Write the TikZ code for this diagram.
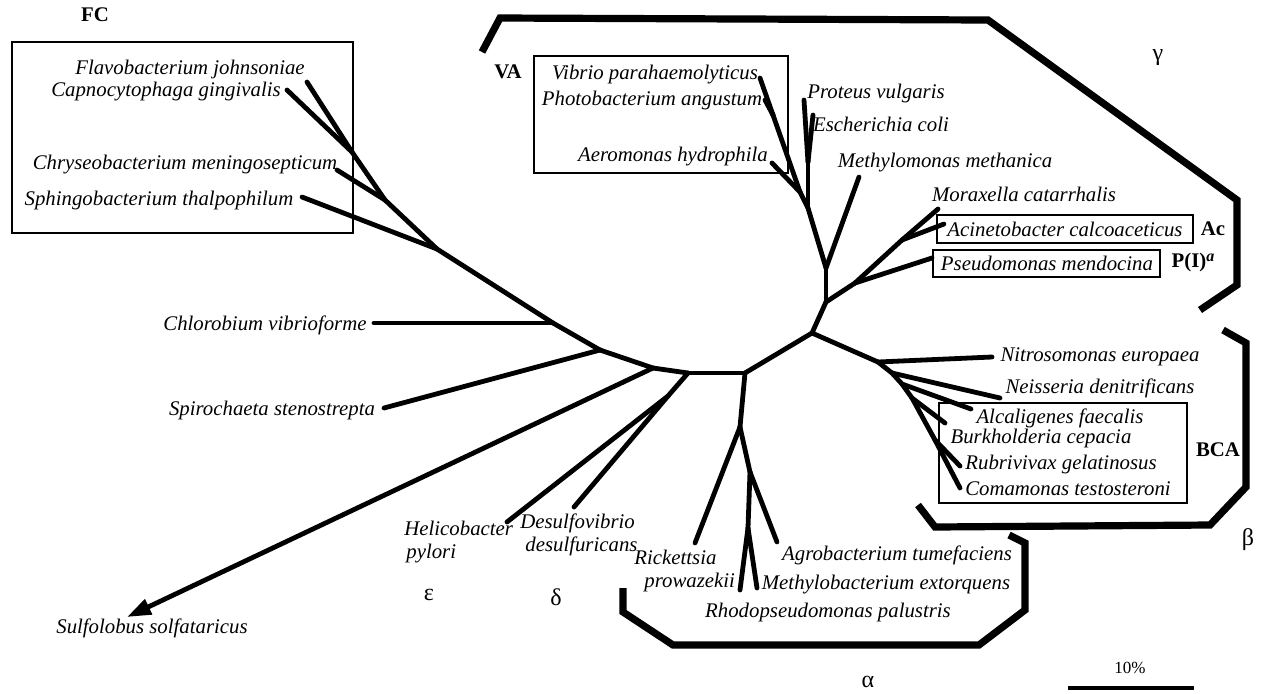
\documentclass[tikz,border=0pt]{standalone}
\usepackage{fontspec}
\setmainfont{Liberation Serif}
\usetikzlibrary{arrows.meta}
\begin{document}
\begin{tikzpicture}[x=0.5pt,y=-0.5pt,
  br/.style={line width=2.4pt,line cap=round,line join=round},
  brk/.style={line width=3.6pt,line join=miter},
  bx/.style={draw,line width=1pt},
  lab/.style={font=\fontsize{10.4}{11.6}\selectfont\itshape,inner sep=0pt},
  grp/.style={font=\fontsize{10.4}{12}\selectfont\bfseries,inner sep=0pt},
  gk/.style={font=\fontsize{12}{14}\selectfont,inner sep=0pt}]
\useasboundingbox (0,0) rectangle (1266,693);

% ---------- internal nodes ----------
\coordinate (F1) at (352,152);
\coordinate (F2) at (385,200);
\coordinate (F3) at (437,249);
\coordinate (Chl) at (553,323);
\coordinate (Spi) at (600,350);
\coordinate (Sul) at (653,368);
\coordinate (CL) at (688,373);
\coordinate (H1) at (668,396);
\coordinate (CA) at (745,373);
\coordinate (A1) at (740,427);
\coordinate (A2) at (750,472);
\coordinate (A3) at (748,528);
\coordinate (C1) at (812,333);
\coordinate (G1) at (826,302);
\coordinate (G2) at (826,268);
\coordinate (G3) at (808,208);
\coordinate (GA) at (800,192);
\coordinate (Gvib) at (773,115);
\coordinate (Gent) at (808,162);
\coordinate (Gps) at (855,283);
\coordinate (Gmor) at (902,240);
\coordinate (B1) at (878,362);
\coordinate (B2) at (892,373);
\coordinate (B3) at (902,384);
\coordinate (B4) at (912,398);
\coordinate (B5) at (935,440);

% ---------- leaf tips ----------
\coordinate (tFlavo) at (307,82);
\coordinate (tCapno) at (287,90);
\coordinate (tChryseo) at (337,170);
\coordinate (tSphingo) at (302,197);
\coordinate (tChloro) at (374,323);
\coordinate (tSpiro) at (384,408);
\coordinate (tSulfo) at (127,617);
\coordinate (tHelico) at (507,522);
\coordinate (tDesulfo) at (574,507);
\coordinate (tRick) at (695,543);
\coordinate (tAgro) at (777,542);
\coordinate (tRhodo) at (740,590);
\coordinate (tMethylo) at (757,588);
\coordinate (tVibrio) at (760,78);
\coordinate (tPhoto) at (765,100);
\coordinate (tAero) at (772,163);
\coordinate (tProteus) at (804,100);
\coordinate (tEcoli) at (813,115);
\coordinate (tMethylom) at (859,177);
\coordinate (tMorax) at (938,209);
\coordinate (tAcin) at (944,224);
\coordinate (tPseudo) at (932,258);
\coordinate (tNitro) at (992,357);
\coordinate (tNeis) at (1000,398);
\coordinate (tAlc) at (971,409);
\coordinate (tBurk) at (945,423);
\coordinate (tRubr) at (960,466);
\coordinate (tComa) at (960,488);

% ---------- branches ----------
\draw[br] (tFlavo) -- (F1);
\draw[br] (tCapno) -- (F1);
\draw[br] (F1) -- (F2);
\draw[br] (tChryseo) -- (F2);
\draw[br] (F2) -- (F3);
\draw[br] (tSphingo) -- (F3);
\draw[br] (F3) -- (Chl);
\draw[br] (tChloro) -- (Chl);
\draw[br] (Chl) -- (Spi);
\draw[br] (tSpiro) -- (Spi);
\draw[br] (Spi) -- (Sul);
\draw[br,-{Triangle[length=12pt,width=8pt]}] (Sul) -- (tSulfo);
\draw[br] (Sul) -- (CL);
\draw[br] (CL) -- (H1);
\draw[br] (H1) -- (tHelico);
\draw[br] (H1) -- (tDesulfo);
\draw[br] (CL) -- (CA);
\draw[br] (CA) -- (A1);
\draw[br] (A1) -- (tRick);
\draw[br] (A1) -- (A2);
\draw[br] (A2) -- (tAgro);
\draw[br] (A2) -- (A3);
\draw[br] (A3) -- (tRhodo);
\draw[br] (A3) -- (tMethylo);
\draw[br] (CA) -- (C1);
\draw[br] (C1) -- (G1);
\draw[br] (G1) -- (G2);
\draw[br] (G2) -- (G3);
\draw[br] (G2) -- (tMethylom);
\draw[br] (G3) -- (GA);
\draw[br] (GA) -- (tAero);
\draw[br] (GA) -- (Gvib);
\draw[br] (Gvib) -- (tVibrio);
\draw[br] (Gvib) -- (tPhoto);
\draw[br] (G3) -- (Gent);
\draw[br] (Gent) -- (tProteus);
\draw[br] (Gent) -- (tEcoli);
\draw[br] (G1) -- (Gps);
\draw[br] (Gps) -- (tPseudo);
\draw[br] (Gps) -- (Gmor);
\draw[br] (Gmor) -- (tMorax);
\draw[br] (Gmor) -- (tAcin);
\draw[br] (C1) -- (B1);
\draw[br] (B1) -- (tNitro);
\draw[br] (B1) -- (B2);
\draw[br] (B2) -- (tNeis);
\draw[br] (B2) -- (B3);
\draw[br] (B3) -- (tAlc);
\draw[br] (B3) -- (B4);
\draw[br] (B4) -- (tBurk);
\draw[br] (B4) -- (B5);
\draw[br] (B5) -- (tRubr);
\draw[br] (B5) -- (tComa);

% ---------- boxes ----------
\draw[bx] (12,42) rectangle (353,233);
\draw[bx] (534,56) rectangle (788,173);
\draw[bx] (937,215) rectangle (1193,243);
\draw[bx] (933,250) rectangle (1160,277);
\draw[bx] (939,403) rectangle (1187,503);

% ---------- brackets ----------
\draw[brk] (482,52) -- (500,18) -- (988,20) -- (1237,200) -- (1237,285) -- (1200,310);
\draw[brk] (1223,330) -- (1246,343) -- (1246,487) -- (1210,525) -- (935,527) -- (918,505);
\draw[brk] (623,588) -- (623,612) -- (673,645) -- (979,645) -- (1025,610) -- (1025,543) -- (1009,535);

% ---------- labels ----------
\node[grp] (FC) at (95,15) {FC};
\node[grp] (VA) at (508,72) {VA};
\node[grp] (Ac) at (1213,229) {Ac};
\node[grp] (PI) at (1193,262) {P(I)\raisebox{0.55ex}{\fontsize{8}{8}\selectfont\itshape a}};
\node[grp] (BCA) at (1218,450) {BCA};

\node[lab] (nFlavo) at (190,69) {Flavobacterium johnsoniae};
\node[lab] (nCapno) at (166,92) {Capnocytophaga gingivalis};
\node[lab] (nChryseo) at (185,165) {Chryseobacterium meningosepticum};
\node[lab] (nSphingo) at (159,200) {Sphingobacterium thalpophilum};
\node[lab] (nChloro) at (265,325) {Chlorobium vibrioforme};
\node[lab] (nSpiro) at (272,410) {Spirochaeta stenostrepta};
\node[lab] (nSulfo) at (152,628) {Sulfolobus solfataricus};
\node[lab,anchor=west,align=left] (nHelico) at (404,542) {Helicobacter\\\hspace*{1pt}pylori};
\node[lab,anchor=west,align=left] (nDesulfo) at (520,535) {Desulfovibrio\\\hspace*{2.5pt}desulfuricans};
\node[lab,anchor=west,align=left] (nRick) at (634,571) {Rickettsia\\\hspace*{5pt}prowazekii};
\node[lab] (nAgro) at (897,555) {Agrobacterium tumefaciens};
\node[lab] (nMethylo) at (886,585) {Methylobacterium extorquens};
\node[lab] (nRhodo) at (828,612) {Rhodopseudomonas palustris};
\node[lab] (nVibrio) at (655,75) {Vibrio parahaemolyticus};
\node[lab] (nPhoto) at (652,100) {Photobacterium angustum};
\node[lab] (nAero) at (673,157) {Aeromonas hydrophila};
\node[lab] (nProteus) at (876,93) {Proteus vulgaris};
\node[lab] (nEcoli) at (881,124) {Escherichia coli};
\node[lab] (nMethylom) at (945,163) {Methylomonas methanica};
\node[lab] (nMorax) at (1024,194) {Moraxella catarrhalis};
\node[lab] (nAcin) at (1065,229) {Acinetobacter calcoaceticus};
\node[lab] (nPseudo) at (1047,263) {Pseudomonas mendocina};
\node[lab] (nNitro) at (1100,357) {Nitrosomonas europaea};
\node[lab] (nNeis) at (1100,388) {Neisseria denitrificans};
\node[lab] (nAlc) at (1060,418) {Alcaligenes faecalis};
\node[lab] (nBurk) at (1041,438) {Burkholderia cepacia};
\node[lab] (nRubr) at (1061,464) {Rubrivivax gelatinosus};
\node[lab] (nComa) at (1068,489) {Comamonas testosteroni};

\node[gk] (gamma) at (1158,58) {γ};
\node[gk] (beta) at (1248,540) {β};
\node[gk] (alpha) at (868,682) {α};
\node[gk] (delta) at (556,597) {δ};
\node[gk] (eps) at (429,595) {ε};

% ---------- scale bar ----------
\coordinate (sb1) at (1068,688);
\coordinate (sb2) at (1194,688);
\draw[line width=2.4pt] (sb1) -- (sb2);
\node[inner sep=0pt,font=\fontsize{8.5}{10}\selectfont] (sbl) at (1130,668) {10\%};
\end{tikzpicture}
\end{document}
